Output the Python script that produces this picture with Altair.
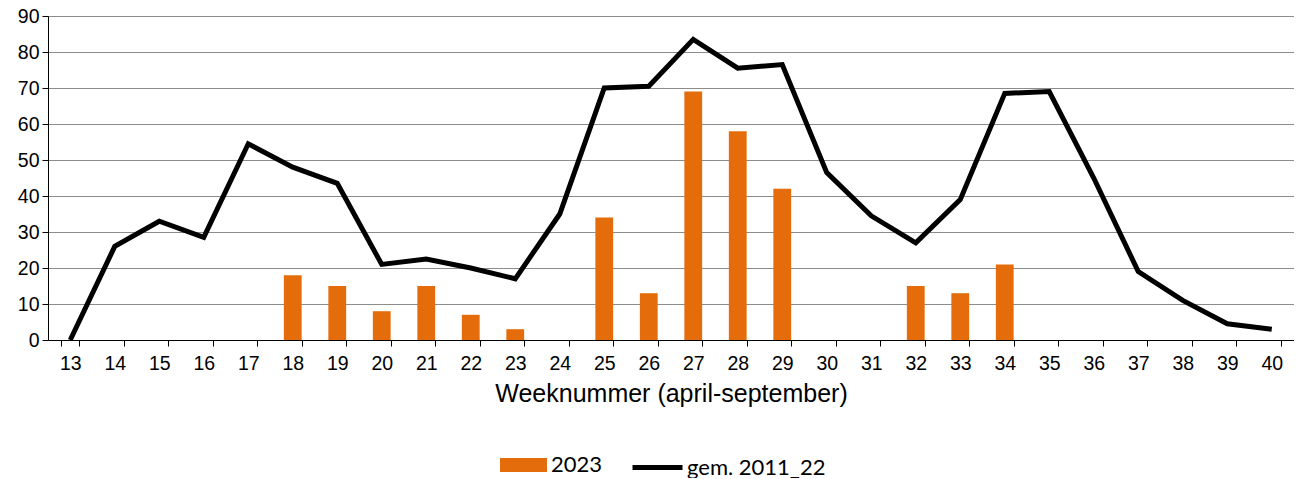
import altair as alt
import pandas as pd

weeks = [str(w) for w in range(13, 41)]
avg_2011_22 = [0, 26, 33, 28.5, 54.5, 48, 43.5, 21, 22.5, 20, 17, 35, 70, 70.5,
               83.5, 75.5, 76.5, 46.5, 34.5, 27, 39, 68.5, 69, 45, 19, 11, 4.5, 3]
y2023 = [0, 0, 0, 0, 0, 18, 15, 8, 15, 7, 3, 0, 34, 13,
         69, 58, 42, 0, 0, 15, 13, 21, 0, 0, 0, 0, 0, 0]

bar_df = pd.DataFrame({"week": weeks, "value": y2023, "s": "2023"})
line_df = pd.DataFrame({"week": weeks, "value": avg_2011_22, "s": "gem. 2011_22"})

FONT = "Liberation Sans"

xenc = alt.X("week:O", sort=weeks,
             scale=alt.Scale(paddingInner=0.6, paddingOuter=0.3),
             axis=alt.Axis(title="Weeknummer (april-september)", labelAngle=0,
                           tickBand="extent", tickSize=6, tickColor="black",
                           domainColor="black", labelFont=FONT, labelFontSize=19.5,
                           labelColor="black", labelPadding=8, titleFont=FONT,
                           titleFontSize=25, titleFontWeight="normal",
                           titleColor="black", titlePadding=9, grid=False))
yenc = alt.Y("value:Q", scale=alt.Scale(domain=[0, 90], nice=False),
             axis=alt.Axis(title=None, values=list(range(0, 91, 10)), tickSize=6,
                           tickColor="black", domainColor="black", labelFont=FONT,
                           labelFontSize=19.5, labelColor="black", labelPadding=3,
                           gridColor="#8c8c8c", gridWidth=1))

bars = alt.Chart(bar_df).mark_bar(color="#E46C0A").encode(
    x=xenc, y=yenc,
    color=alt.Color("s:N", scale=alt.Scale(domain=["2023"], range=["#E46C0A"]),
                    legend=alt.Legend(orient="none", legendX=452, legendY=425.5,
                                      title=None, padding=0,
                                      symbolType="M-1,-0.3H1V0.3H-1Z",
                                      symbolSize=2209, symbolStrokeWidth=0,
                                      symbolOpacity=1,
                                      labelFont="Lato", labelFontSize=22,
                                      labelColor="black", labelOffset=4)),
)

line = alt.Chart(line_df).mark_line(color="black", strokeWidth=5).encode(
    x=xenc, y=yenc,
    stroke=alt.Stroke("s:N", scale=alt.Scale(domain=["gem. 2011_22"], range=["black"]),
                      legend=alt.Legend(orient="none", legendX=582, legendY=424,
                                        title=None, padding=0,
                                        symbolType="stroke", symbolSize=2500,
                                        symbolStrokeWidth=5,
                                        labelFont="Lato", labelFontSize=22,
                                        labelColor="black", labelOffset=2)),
)

chart = alt.layer(bars, line).resolve_scale(color="independent").properties(
    width=1246, height=324,
    autosize=alt.AutoSizeParams(type="none"),
    padding={"left": 40, "top": 8, "right": 0, "bottom": 138},
).configure_view(stroke="#999999", strokeWidth=1.5).configure(background="white")

chart.save("out.html", embed_options={"renderer": "svg", "actions": False})
